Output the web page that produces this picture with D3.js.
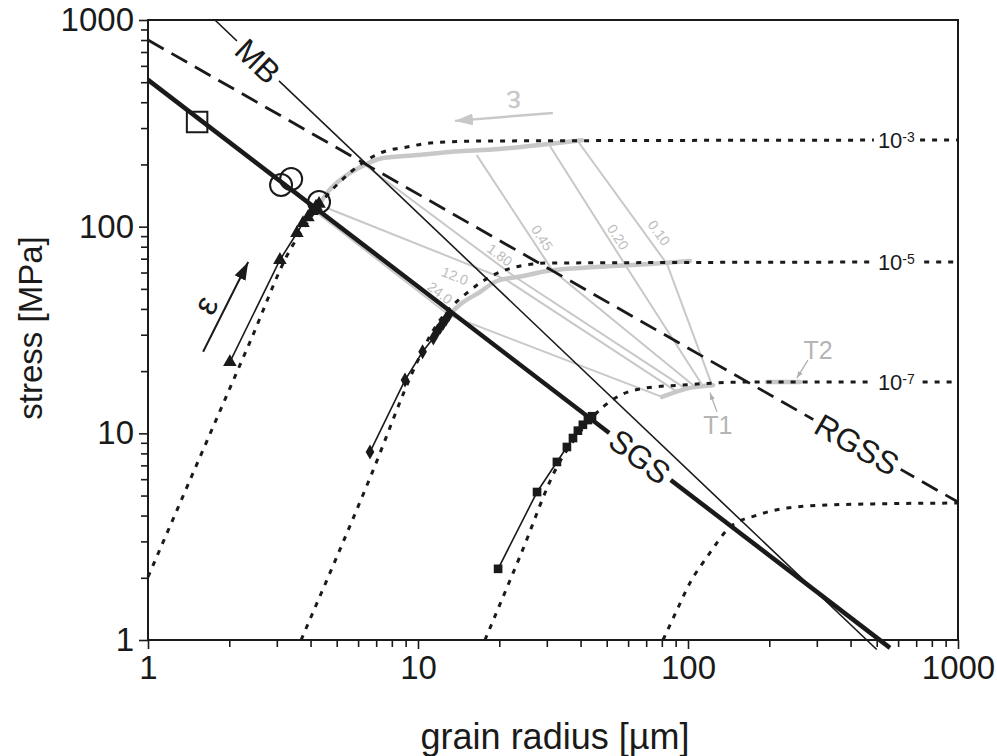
<!DOCTYPE html>
<html>
<head>
<meta charset="utf-8">
<script src="https://cdn.jsdelivr.net/npm/d3@7"></script>
<style>
  body { margin: 0; background: #fff; }
  svg text { font-family: "Liberation Sans", Arial, Helvetica, sans-serif; }
</style>
</head>
<body>
<svg id="chart" width="997" height="756"></svg>
<script>

const xTicks = [1, 10, 100, 1000];
const yTicks = [1, 10, 100, 1000];
const xTitle = 'grain radius [µm]';
const yTitle = 'stress [MPa]';

// boundary lines, [grain radius, stress] at both ends
const sgsEnds = [[1, 513], [560, 0.916]];
const mbEnds = [[1.77, 1000], [500, 0.9]];
const rgssEnds = [[1, 800], [1000, 4.65]];

// dotted model curves for each strain rate
const rate3 = [[1, 2.02], [1.558, 7.68], [2.387, 27.7], [3.357, 77.1], [3.815, 100.7], [4.26, 124.5], [4.72, 147.2],
  [5.14, 164.5], [5.69, 185.9], [6.47, 210.2], [7.42, 229.8], [9.10, 242.9], [11.08, 254], [16.97, 259.7], [1000, 262.6]];
const rate5 = [[3.69, 1], [6.64, 6.08], [9.92, 22.1], [11.08, 29.6], [12.06, 35.3], [13.36, 41.3], [15.19, 47.8],
  [16.97, 53.4], [20.1, 60.3], [23.9, 64.5], [30.8, 66.7], [1000, 67.5]];
const rate7 = [[17.7, 1], [23.9, 2.55], [32.7, 6.87], [39.8, 10.15], [48.4, 13.4], [57.4, 15.5], [70.5, 16.6],
  [93.4, 17.1], [165.4, 17.7], [1000, 17.7]];
const rate9 = [[80.8, 1], [91.1, 1.40], [101.7, 1.89], [117.6, 2.52], [143.1, 3.52], [180.2, 4.02], [232.7, 4.35],
  [327, 4.50], [460, 4.55], [1000, 4.60]];
const rateLabels = ['-3', '-5', '-7'];

// measured runs
const runTriangles = [[2.01, 22.1], [3.08, 69.0], [3.56, 93.2], [3.75, 104], [3.91, 111], [4.05, 119], [4.19, 125], [4.30, 129]];
const runDiamonds = [[6.64, 8.12], [8.95, 18.1], [10.4, 24.8], [11.4, 28.9], [11.8, 31.3], [12.1, 32.7], [12.4, 34.2], [12.7, 35.7], [13.0, 37.4]];
const runSquares = [[19.8, 2.21], [27.6, 5.20], [32.7, 7.27], [35.6, 8.59], [37.5, 9.49], [39.1, 10.3], [40.8, 11.0], [42.6, 11.6], [44.1, 12.1]];

const openSquares = [[1.52, 321]];
const openCircles = [[3.11, 159], [3.39, 170], [4.30, 131.6]];

// grey model paths
const pathE3 = [[4.34, 130], [4.60, 145.5], [5.14, 168], [6.10, 194], [7.42, 215], [9.92, 222], [13.1, 230], [20.1, 237.5], [28.3, 248.5], [40.5, 262]];
const pathE5 = [[13.0, 37.4], [14.55, 42.7], [16.97, 48.3], [19.6, 54.6], [24.5, 57.7], [30.0, 61.0], [39.8, 63.1], [52.7, 64.5], [72.3, 66.0], [101.7, 68.2]];
const pathE7 = [[80.1, 15.0], [101.7, 16.6], [123.8, 17.1]];
const pathT2 = [[196, 17.7], [260, 17.7]];

// iso-strain lines
const strainLabels = ['24.0', '12.0', '1.80', '0.45', '0.20', '0.10'];
const isoStrainLines = [
  [[4.19, 117.8], [13.0, 37.4], [80.1, 15.0]],
  [[4.60, 123.1], [21.0, 55.8], [90.3, 16.0]],
  [[6.36, 198.8], [22.9, 57.1], [98.3, 16.4]],
  [[16.5, 222], [31.4, 61.7], [106.2, 16.8]],
  [[30.8, 245.7], [58.9, 64.5], [113.7, 16.9]],
  [[38.8, 262.6], [83.6, 66.0], [122.7, 17.1]]
];
const strainLabelAt = [[12.06, 47.8], [13.7, 57.7], [20.1, 72.9], [28.8, 88.1], [55.0, 89.1], [78.1, 93.2]];

// annotation anchors
const epsArrow = [[1.60, 24.8], [2.35, 67.5]];
const epsLabelAt = [1.63, 41.8];
const epsGreyArrow = [[31.6, 355], [13.7, 325]];
const epsGreyLabelAt = [22.5, 453];
const t1Arrow = [[128.1, 12.7], [120.6, 15.7]];
const t1LabelAt = [129, 11.0];
const t2Arrow = [[278, 22.6], [253, 18.5]];
const t2LabelAt = [303, 25.3];
const rateLabelR = 505;

const GREY = '#c8c8c8';
const INK = '#1a1a1a';

const svg = d3.select('#chart');

const x = d3.scaleLog().domain([1, 1000]).range([148, 958]);
const y = d3.scaleLog().domain([1, 1000]).range([640, 20]);

const line = d3.line().x((d) => x(d[0])).y((d) => y(d[1]));
const smooth = d3.line().x((d) => x(d[0])).y((d) => y(d[1])).curve(d3.curveMonotoneX);

const defs = svg.append('defs');
const arrowHead = (id, color, len, wid) => {
  defs.append('marker')
    .attr('id', id)
    .attr('viewBox', `0 0 ${len} ${wid}`)
    .attr('refX', len).attr('refY', wid / 2)
    .attr('markerWidth', len).attr('markerHeight', wid)
    .attr('markerUnits', 'userSpaceOnUse')
    .attr('orient', 'auto')
    .append('path')
      .attr('d', `M0,0L${len},${wid / 2}L0,${wid}Z`)
      .attr('fill', color);
};
arrowHead('ahBlack', INK, 18, 12);
arrowHead('ahGrey', GREY, 18, 12);
arrowHead('ahSmall', '#b0b0b0', 7, 5);

// axes
const minorTicks = [];
[1, 10, 100].forEach((p) => { for (let k = 2; k <= 9; k++) minorTicks.push(k * p); });

const styleAxis = (g) => {
  g.select('.domain').remove();
  g.selectAll('.tick line').attr('stroke', INK).attr('stroke-width', 1.6);
  g.selectAll('.tick text').attr('fill', INK).style('font-size', '33px');
};

svg.append('g').attr('transform', 'translate(0,640)')
  .call(d3.axisBottom(x).tickValues(minorTicks).tickSize(7).tickFormat(''))
  .call(styleAxis);
svg.append('g').attr('transform', 'translate(0,640)')
  .call(d3.axisBottom(x).tickValues(xTicks).tickSize(9).tickPadding(7).tickFormat(d3.format('d')))
  .call(styleAxis);
svg.append('g').attr('transform', 'translate(148,0)')
  .call(d3.axisLeft(y).tickValues(minorTicks).tickSize(7).tickFormat(''))
  .call(styleAxis);
svg.append('g').attr('transform', 'translate(148,0)')
  .call(d3.axisLeft(y).tickValues(yTicks).tickSize(9).tickPadding(5).tickFormat(d3.format('d')))
  .call(styleAxis);

svg.append('text')
  .attr('x', 555).attr('y', 749)
  .attr('text-anchor', 'middle')
  .attr('fill', INK)
  .style('font-size', '36px')
  .text(xTitle);

svg.append('text')
  .attr('transform', 'translate(42,328) rotate(-90)')
  .attr('text-anchor', 'middle')
  .attr('fill', INK)
  .style('font-size', '33px')
  .text(yTitle);

// grey model paths and iso-strain lines
const greyLayer = svg.append('g');

greyLayer.selectAll('.iso')
  .data(isoStrainLines)
  .enter().append('path')
    .attr('d', line)
    .attr('fill', 'none')
    .attr('stroke', GREY)
    .attr('stroke-width', 2);

greyLayer.selectAll('.gpath')
  .data([pathE3, pathE5, pathE7, pathT2])
  .enter().append('path')
    .attr('d', smooth)
    .attr('fill', 'none')
    .attr('stroke', GREY)
    .attr('stroke-width', 4.5)
    .attr('stroke-linecap', 'round');

strainLabels.forEach((lab, i) => {
  const seg = isoStrainLines[i];
  const angle = Math.atan2(y(seg[1][1]) - y(seg[0][1]), x(seg[1][0]) - x(seg[0][0])) * 180 / Math.PI;
  const at = strainLabelAt[i];
  greyLayer.append('text')
    .attr('transform', `translate(${x(at[0])},${y(at[1])}) rotate(${angle})`)
    .attr('text-anchor', 'middle')
    .attr('dy', '0.35em')
    .attr('fill', '#bdbdbd')
    .style('font-size', '14px')
    .text(lab);
});

// dotted model curves
svg.selectAll('.rate')
  .data([rate3, rate5, rate7, rate9])
  .enter().append('path')
    .attr('d', smooth)
    .attr('fill', 'none')
    .attr('stroke', INK)
    .attr('stroke-width', 3)
    .attr('stroke-dasharray', '5,7');

// boundary lines
svg.append('path').datum(rgssEnds).attr('d', line)
  .attr('fill', 'none').attr('stroke', INK).attr('stroke-width', 2.8).attr('stroke-dasharray', '18,9');
svg.append('path').datum(mbEnds).attr('d', line)
  .attr('fill', 'none').attr('stroke', INK).attr('stroke-width', 1.6);
svg.append('path').datum(sgsEnds).attr('d', line)
  .attr('fill', 'none').attr('stroke', INK).attr('stroke-width', 4.5);

// measured runs
const runs = [
  { data: runTriangles, type: d3.symbolTriangle, size: 80 },
  { data: runDiamonds, type: d3.symbolDiamond, size: 65 },
  { data: runSquares, type: d3.symbolSquare, size: 75 }
];
runs.forEach((run) => {
  svg.append('path').datum(run.data).attr('d', line)
    .attr('fill', 'none').attr('stroke', INK).attr('stroke-width', 1.6);
  svg.selectAll(null)
    .data(run.data)
    .enter().append('path')
      .attr('d', d3.symbol().type(run.type).size(run.size))
      .attr('transform', (d) => `translate(${x(d[0])},${y(d[1])})`)
      .attr('fill', INK);
});

svg.selectAll('.osq')
  .data(openSquares)
  .enter().append('path')
    .attr('d', d3.symbol().type(d3.symbolSquare).size(420))
    .attr('transform', (d) => `translate(${x(d[0])},${y(d[1])})`)
    .attr('fill', 'none').attr('stroke', INK).attr('stroke-width', 2);

svg.selectAll('.ocirc')
  .data(openCircles)
  .enter().append('circle')
    .attr('cx', (d) => x(d[0])).attr('cy', (d) => y(d[1]))
    .attr('r', 11)
    .attr('fill', 'none').attr('stroke', INK).attr('stroke-width', 2);

// labels on the boundary lines
const lineLabel = (ends, r, txt) => {
  const a = [x(ends[0][0]), y(ends[0][1])];
  const b = [x(ends[1][0]), y(ends[1][1])];
  const angle = Math.atan2(b[1] - a[1], b[0] - a[0]) * 180 / Math.PI;
  const t = (x(r) - a[0]) / (b[0] - a[0]);
  const g = svg.append('g')
    .attr('transform', `translate(${x(r)},${a[1] + t * (b[1] - a[1])}) rotate(${angle})`);
  const text = g.append('text')
    .attr('text-anchor', 'middle')
    .attr('dy', '0.36em')
    .attr('fill', INK)
    .style('font-size', '32px')
    .text(txt);
  const bb = text.node().getBBox();
  g.insert('rect', 'text')
    .attr('x', bb.x - 5).attr('y', -6)
    .attr('width', bb.width + 10).attr('height', 12)
    .attr('fill', '#fff');
};
lineLabel(mbEnds, 2.555, 'MB');
lineLabel(sgsEnds, 66.4, 'SGS');
lineLabel(rgssEnds, 422.6, 'RGSS');

// strain rate labels on the plateaus
[rate3, rate5, rate7].forEach((c, i) => {
  const g = svg.append('g')
    .attr('transform', `translate(${x(rateLabelR)},${y(c[c.length - 1][1])})`);
  const text = g.append('text')
    .attr('dy', '0.36em')
    .attr('fill', INK)
    .style('font-size', '22px');
  text.append('tspan').text('10');
  text.append('tspan').attr('dy', '-0.45em').style('font-size', '14px').text(rateLabels[i]);
  const bb = text.node().getBBox();
  g.insert('rect', 'text')
    .attr('x', bb.x - 4).attr('y', -4)
    .attr('width', bb.width + 8).attr('height', 8)
    .attr('fill', '#fff');
});

// strain arrows
svg.append('path').datum(epsArrow).attr('d', line)
  .attr('stroke', INK).attr('stroke-width', 2).attr('marker-end', 'url(#ahBlack)');
const epsAngle = Math.atan2(y(epsArrow[1][1]) - y(epsArrow[0][1]), x(epsArrow[1][0]) - x(epsArrow[0][0])) * 180 / Math.PI;
svg.append('text')
  .attr('transform', `translate(${x(epsLabelAt[0])},${y(epsLabelAt[1])}) rotate(${epsAngle})`)
  .attr('text-anchor', 'middle')
  .attr('dy', '0.35em')
  .attr('fill', INK)
  .style('font-size', '34px')
  .text('ε');

svg.append('path').datum(epsGreyArrow).attr('d', line)
  .attr('stroke', GREY).attr('stroke-width', 2.5).attr('marker-end', 'url(#ahGrey)');
const epsGreyAngle = Math.atan2(y(epsGreyArrow[1][1]) - y(epsGreyArrow[0][1]), x(epsGreyArrow[1][0]) - x(epsGreyArrow[0][0])) * 180 / Math.PI;
svg.append('text')
  .attr('transform', `translate(${x(epsGreyLabelAt[0])},${y(epsGreyLabelAt[1])}) rotate(${epsGreyAngle})`)
  .attr('text-anchor', 'middle')
  .attr('fill', GREY)
  .style('font-size', '32px')
  .text('ε');

// T1 / T2 markers
[[t1Arrow, t1LabelAt, 'T1'], [t2Arrow, t2LabelAt, 'T2']].forEach(([arr, at, lab]) => {
  svg.append('path').datum(arr).attr('d', line)
    .attr('stroke', '#b0b0b0').attr('stroke-width', 1.3).attr('marker-end', 'url(#ahSmall)');
  svg.append('text')
    .attr('x', x(at[0])).attr('y', y(at[1]))
    .attr('text-anchor', 'middle')
    .attr('dy', '0.36em')
    .attr('fill', '#b5b5b5')
    .style('font-size', '25px')
    .text(lab);
});

// frame
svg.append('rect')
  .attr('x', 148).attr('y', 20)
  .attr('width', 810).attr('height', 620)
  .attr('fill', 'none')
  .attr('stroke', INK)
  .attr('stroke-width', 2);

</script>
</body>
</html>
